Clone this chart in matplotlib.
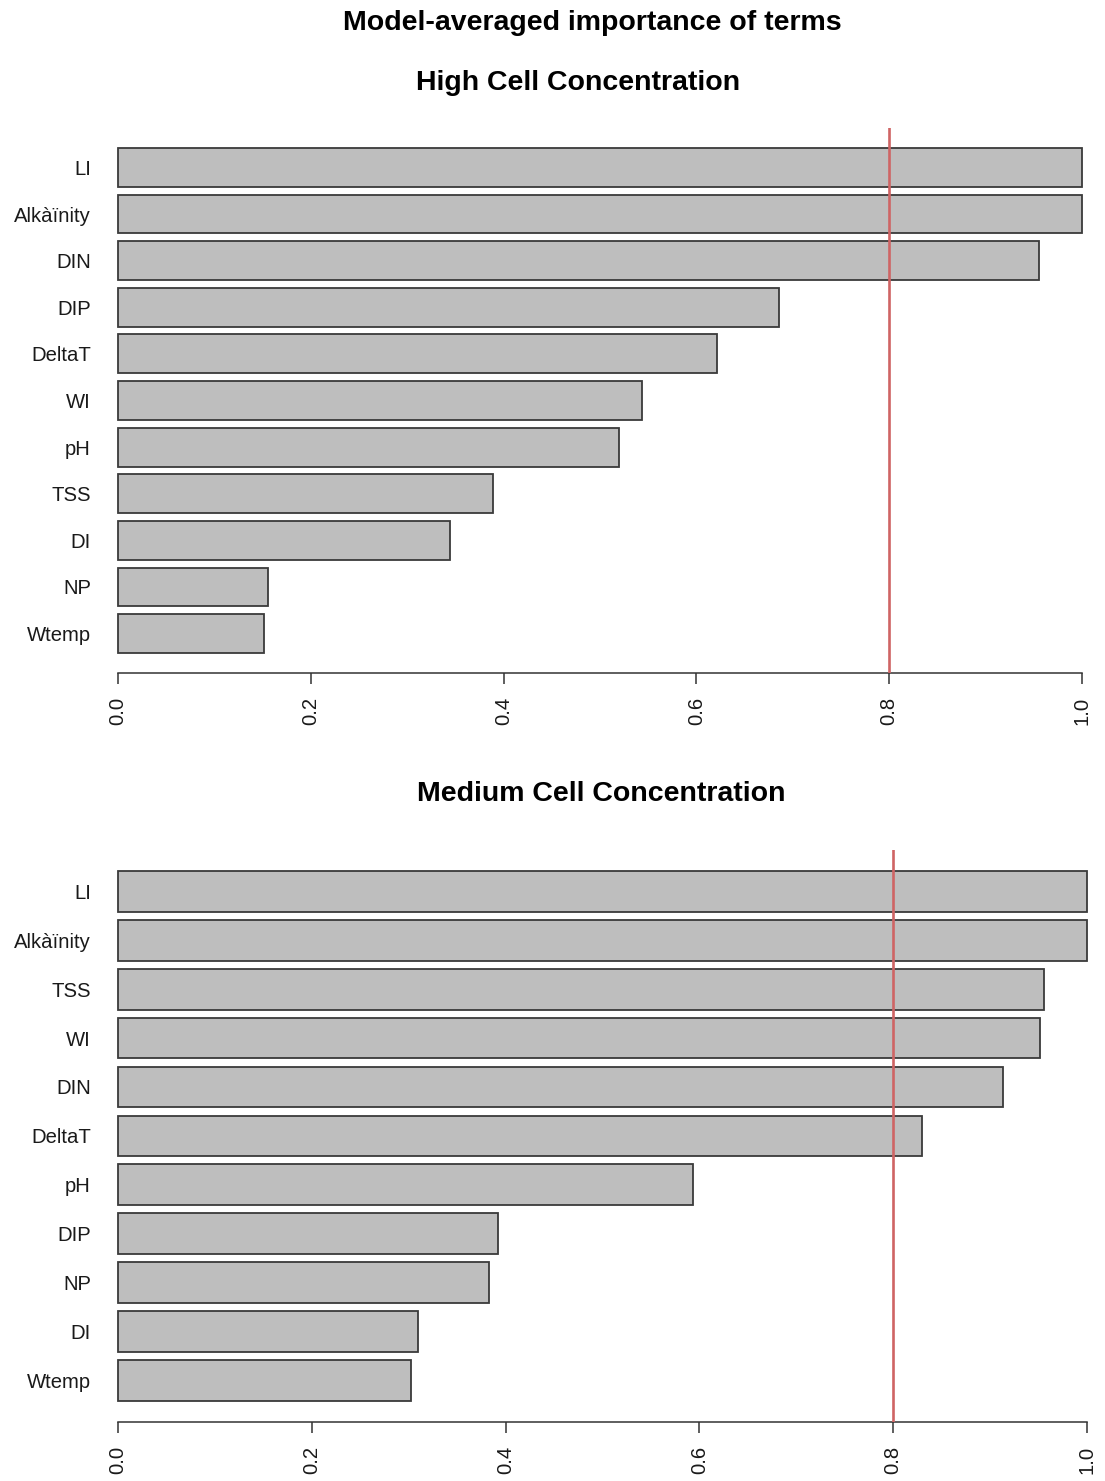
import numpy as np
import matplotlib
matplotlib.use("Agg")
import matplotlib.pyplot as plt

plt.rcParams['font.family'] = ['Liberation Sans', 'DejaVu Sans']

# Model-averaged importance of each term, one list per cell-concentration class
high_terms = ["LI", "Alkàïnity", "DIN", "DIP", "DeltaT", "WI", "pH", "TSS", "DI", "NP", "Wtemp"]
high_importance = [1.0, 1.0, 0.955, 0.686, 0.621, 0.544, 0.520, 0.389, 0.344, 0.156, 0.151]

medium_terms = ["LI", "Alkàïnity", "TSS", "WI", "DIN", "DeltaT", "pH", "DIP", "NP", "DI", "Wtemp"]
medium_importance = [1.0, 1.0, 0.956, 0.952, 0.913, 0.830, 0.593, 0.392, 0.383, 0.310, 0.302]

x_ticks = [0.0, 0.2, 0.4, 0.6, 0.8, 1.0]
x_tick_labels = ["0.0", "0.2", "0.4", "0.6", "0.8", "1.0"]
threshold = 0.8

W, H = 1105, 1481
fig = plt.figure(figsize=(W / 100, H / 100), dpi=100)

BAR_FILL = "#bebebe"
BAR_EDGE = "#3a3a3a"
LINE_RED = "#cf6464"
FS = 14.6


def panel(left, right, top, bottom, terms, values):
    ax = fig.add_axes([left / W, 1 - bottom / H, (right - left) / W, (bottom - top) / H])
    n = len(terms)
    # barplot-style layout: width 1, space 0.2, range padded by 4 %
    pos = 0.7 + 1.2 * np.arange(n)
    ax.barh(pos, values, height=1.0, color=BAR_FILL, edgecolor=BAR_EDGE,
            linewidth=1.3, clip_on=False, zorder=2)
    span = 1.2 * n - 0.2
    ax.set_ylim(0.2 + span + 0.04 * span, 0.2 - 0.04 * span)
    ax.set_xlim(0, 1)
    ax.axvline(threshold, color=LINE_RED, linewidth=1.9, zorder=3)
    ax.set_yticks(pos)
    ax.set_yticklabels(terms, fontsize=FS, color="#1a1a1a")
    ax.tick_params(axis="y", length=0, pad=19.5)
    ax.set_xticks(x_ticks)
    ax.set_xticklabels(x_tick_labels, rotation=90, fontsize=FS, color="#1a1a1a")
    ax.tick_params(axis="x", length=8, width=1.1, color="#333333", pad=9)
    for s in ("top", "right", "left"):
        ax.spines[s].set_visible(False)
    ax.spines["bottom"].set_linewidth(1.1)
    ax.spines["bottom"].set_color("#333333")
    ax.patch.set_alpha(0)
    return ax


panel(118, 1082, 127.8, 673.2, high_terms, high_importance)
panel(118, 1087, 849.8, 1422.0, medium_terms, medium_importance)

fig.text(592 / W, 1 - 23 / H, "Model-averaged importance of terms", ha="center", va="center",
         fontsize=20.5, fontweight="bold")
fig.text(578 / W, 1 - 83 / H, "High Cell Concentration", ha="center", va="center",
         fontsize=20.5, fontweight="bold")
fig.text(601 / W, 1 - 794 / H, "Medium Cell Concentration", ha="center", va="center",
         fontsize=20.5, fontweight="bold")

fig.savefig("out.png", dpi=100, facecolor="white")
